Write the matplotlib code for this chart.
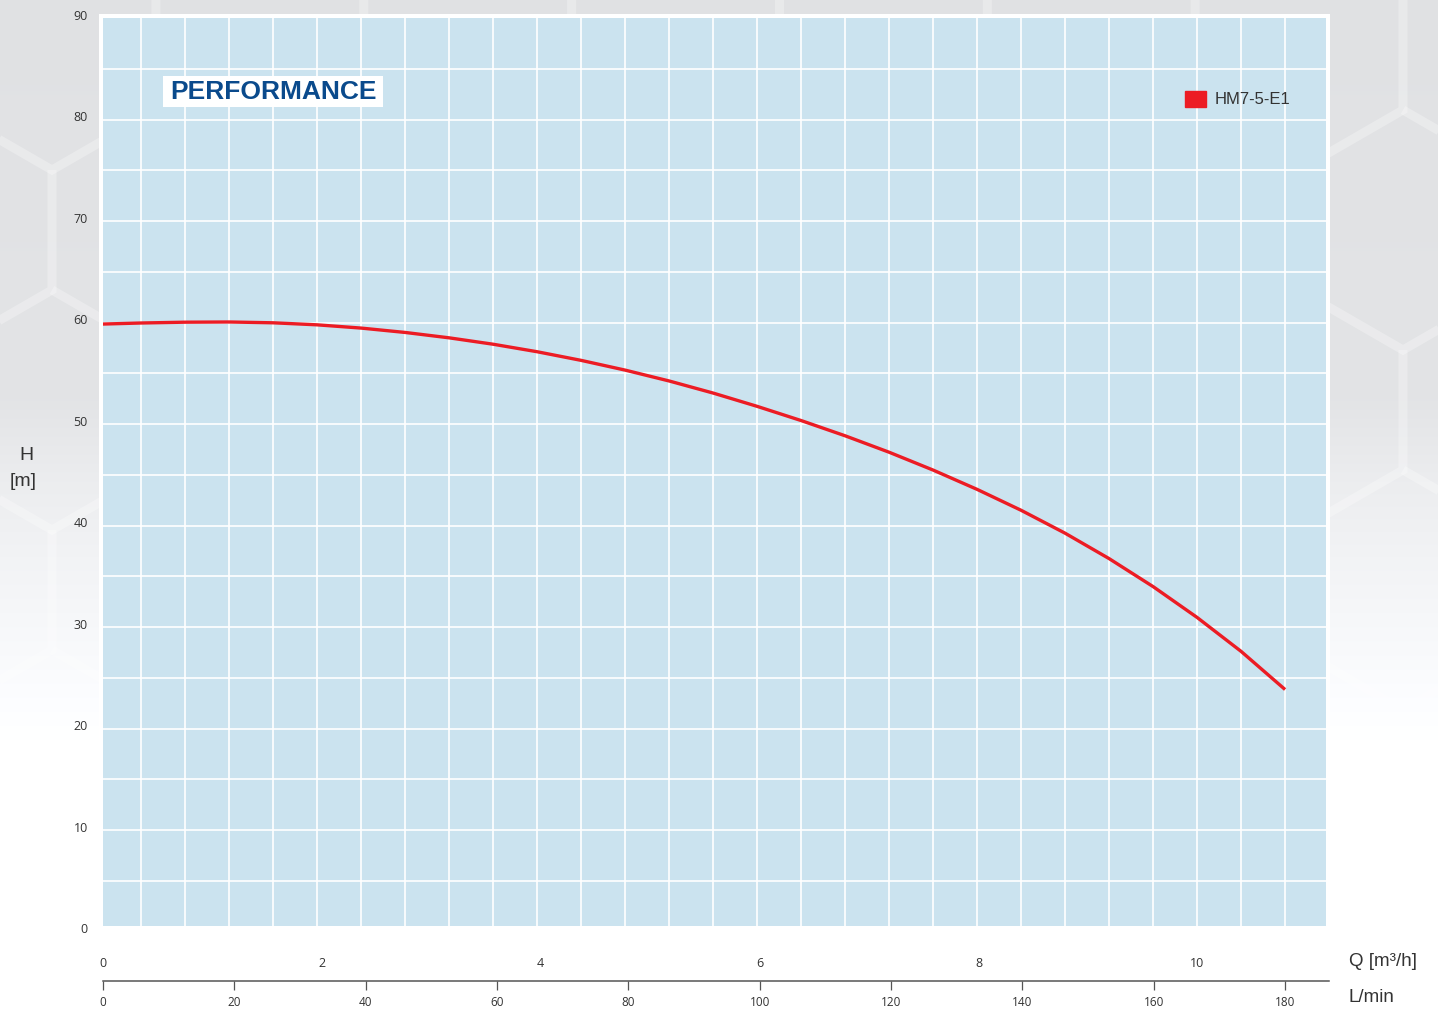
import numpy as np
import matplotlib
matplotlib.use("Agg")
import matplotlib.pyplot as plt
from matplotlib.patches import Rectangle, Patch
from matplotlib.transforms import blended_transform_factory

# pump curve HM7-5-E1 (flow in L/min, head in m)
flow_lmin = [0, 6.67, 13.33, 20, 26.67, 33.33, 40, 46.67, 53.33, 60, 66.67, 73.33,
             80, 86.67, 93.33, 100, 106.67, 113.33, 120, 126.67, 133.33, 140,
             146.67, 153.33, 160, 166.67, 173.33, 180]
head_m = [59.85, 59.97, 60.05, 60.07, 59.99, 59.79, 59.47, 59.04, 58.51, 57.88,
          57.14, 56.29, 55.33, 54.26, 53.07, 51.76, 50.36, 48.86, 47.24, 45.48,
          43.58, 41.52, 39.26, 36.76, 34.00, 30.96, 27.62, 23.86]
series_name = "HM7-5-E1"

h_ticks = list(range(0, 100, 10))
lmin_ticks = list(range(0, 200, 20))
m3h_ticks = [0, 2, 4, 6, 8, 10]

W, H = 1438, 1010
red = "#ec1c24"
txt = "#333333"
num_font = "Open Sans"
lab_font = "Liberation Sans"


def fx(px):
    return px / W


def fy(py):
    return 1 - py / H


fig = plt.figure(figsize=(W / 100, H / 100), dpi=100)

# background: grey fading to white, with a honeycomb pattern
bg = fig.add_axes([0, 0, 1, 1], zorder=-10)
rows = np.arange(H)
v = np.interp(rows, [0, 400, 480, 560, 650, 740], [0.88, 0.89, 0.925, 0.95, 0.975, 1.0])
grad = np.dstack([v, np.minimum(v + 0.004, 1), np.minimum(v + 0.012, 1)])
grad = np.repeat(grad.reshape(H, 1, 3), 4, axis=1)
bg.imshow(grad, extent=[0, W, H, 0], aspect="auto")
s = 120.0
w = s * np.sqrt(3)
for n in range(-1, 7):
    cy = 50 + 1.5 * s * n
    off = 52 if n % 2 == 0 else 52 - w / 2
    for k in range(-1, 9):
        cx = off + w * k
        xs = [cx + w / 2, cx + w / 2, cx, cx - w / 2]
        ys = [cy - s / 2, cy + s / 2, cy + s, cy + s / 2]
        bg.plot(xs, ys, color="white", alpha=0.28, lw=6.5, solid_capstyle="butt",
                solid_joinstyle="miter")
bg.set_xlim(0, W)
bg.set_ylim(H, 0)
bg.axis("off")

# white frame around the plot area
fig.patches.append(Rectangle((fx(99), fy(930)), fx(1330) - fx(99), fy(14) - fy(930),
                             transform=fig.transFigure, facecolor="white",
                             edgecolor="none", zorder=-5))

ax = fig.add_axes([fx(103), fy(926), fx(1326) - fx(103), fy(18) - fy(926)])
ax.set_facecolor("#cbe3ef")
ax.set_xlim(0.9, 186.2)
ax.set_ylim(0.56, 90.02)
ax.set_xticks(np.arange(1, 28) * 20 / 3)
ax.set_yticks(np.arange(5, 90, 5))
ax.grid(True, color="white", lw=1.2)
ax.set_axisbelow(True)
ax.tick_params(length=0, labelleft=False, labelbottom=False)
for sp in ax.spines.values():
    sp.set_visible(False)

ax.plot(flow_lmin, head_m, color=red, lw=2.4, solid_capstyle="butt",
        solid_joinstyle="round", zorder=3)

# y tick labels
tr = blended_transform_factory(ax.transAxes, ax.transData)
for val in h_ticks:
    ax.text(-0.0125, val + 0.2, str(val), transform=tr, ha="right", va="center",
            fontsize=9, family=num_font, color=txt)

fig.text(fx(26), fy(456), "H", ha="center", va="center", fontsize=14,
         family=lab_font, color=txt)
fig.text(fx(23), fy(481), "[m]", ha="center", va="center", fontsize=14,
         family=lab_font, color=txt)

# title box
fig.patches.append(Rectangle((fx(163), fy(107)), fx(383) - fx(163), fy(76) - fy(107),
                             transform=fig.transFigure, facecolor="white",
                             edgecolor="none", zorder=5))
fig.text(fx(273), fy(92), "PERFORMANCE", ha="center", va="center", fontsize=19,
         fontweight="bold", family=lab_font, color="#0a4a8c", zorder=6)

# legend
leg = ax.legend(handles=[Patch(color=red, label=series_name)], loc="center left",
                bbox_to_anchor=(fx(1185), fy(99)), bbox_transform=fig.transFigure,
                frameon=False, borderpad=0, borderaxespad=0, handlelength=1.25,
                handleheight=1.1, handletextpad=0.5,
                prop={"family": lab_font, "size": 12})
for t in leg.get_texts():
    t.set_color(txt)

# bottom scales: L/min axis with m3/h labels above
axb = fig.add_axes([fx(103), fy(981), fx(1329) - fx(103), 0.0001])
axb.set_facecolor("none")
axb.set_xlim(0, 186.7)
axb.set_yticks([])
for side in ["top", "left", "right"]:
    axb.spines[side].set_visible(False)
axb.spines["bottom"].set_color("#555555")
axb.spines["bottom"].set_linewidth(1.1)
axb.set_xticks(lmin_ticks)
axb.tick_params(axis="x", direction="out", length=6.5, width=0.9, color="#555555",
                labelsize=8.5, labelcolor=txt, pad=4)
for lbl in axb.get_xticklabels():
    lbl.set_family(num_font)

sec = axb.secondary_xaxis("top", functions=(lambda q: q * 0.06, lambda m: m / 0.06))
sec.set_xticks(m3h_ticks)
sec.spines["top"].set_visible(False)
sec.tick_params(axis="x", length=0, labelsize=9, labelcolor=txt, pad=7.5)
for lbl in sec.get_xticklabels():
    lbl.set_family(num_font)

fig.text(fx(1349), fy(961), "Q [m³/h]", ha="left", va="center", fontsize=13.5,
         family=lab_font, color=txt)
fig.text(fx(1349), fy(997), "L/min", ha="left", va="center", fontsize=13.5,
         family=lab_font, color=txt)

fig.savefig("out.png", dpi=100)
